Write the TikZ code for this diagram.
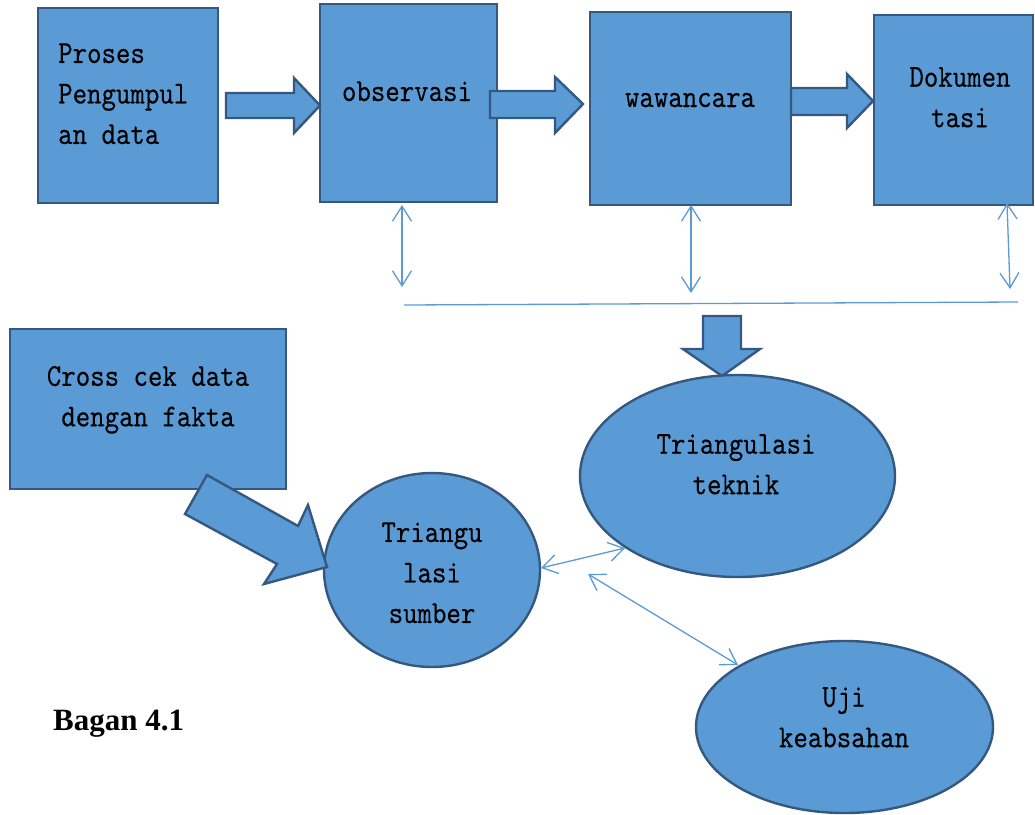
\documentclass[tikz,border=0pt]{standalone}
\usepackage{fontspec}
\newfontfamily\bagfont{Liberation Serif}
\newfontfamily\lblfont[FakeStretch=0.86,FakeBold=0.2]{lmmono10-regular.otf}
\usetikzlibrary{arrows.meta,shapes.geometric}
\definecolor{fillblue}{HTML}{5B9BD5}
\definecolor{edgeblue}{HTML}{34587F}
\definecolor{lineblue}{HTML}{5B9BD5}
\begin{document}
\begin{tikzpicture}[x=1pt,y=-1pt,
  shapebox/.style={draw=edgeblue, fill=fillblue, line width=2.4pt, rectangle, inner sep=0pt},
  shapeell/.style={draw=edgeblue, fill=fillblue, line width=2.4pt, ellipse, inner sep=0pt},
  blockarrow/.style={draw=edgeblue, fill=fillblue, line width=2.4pt, line join=miter},
  lbl/.style={font=\lblfont\fontsize{32}{40.5}\selectfont, inner sep=0pt, text=black},
  dblarrow/.style={draw=lineblue, line width=1.3pt, {Straight Barb[length=15pt,width=19pt]}-{Straight Barb[length=15pt,width=19pt]}},
  plainline/.style={draw=lineblue, line width=1.3pt}
]
\useasboundingbox (0,0) rectangle (1035,814);

% boxes
\node[shapebox, minimum width=180pt, minimum height=195pt] (proses) at (128,105.5) {};
\node[shapebox, minimum width=177pt, minimum height=198pt] (obs) at (408.5,103) {};
\node[shapebox, minimum width=201pt, minimum height=193pt] (waw) at (690.5,108.5) {};
\node[shapebox, minimum width=159pt, minimum height=190pt] (dok) at (953.5,110) {};
\node[shapebox, minimum width=276pt, minimum height=160pt] (cross) at (148,409) {};

% top block arrows
\path[blockarrow] (226,93) -- (294,93) -- (294,78) -- (320,105.5) -- (294,133) -- (294,118) -- (226,118) -- cycle;
\path[blockarrow] (490,91) -- (555,91) -- (555,77) -- (583,104) -- (555,133) -- (555,118) -- (490,118) -- cycle;
\path[blockarrow] (791,88) -- (847,88) -- (847,74) -- (873,101) -- (847,128) -- (847,115) -- (791,115) -- cycle;

% down block arrow
\path[blockarrow] (703,316) -- (741,316) -- (741,349) -- (760,349) -- (722,376) -- (683,349) -- (703,349) -- cycle;

% ellipses
\node[shapeell, minimum width=315pt, minimum height=202pt] (teknik) at (737.5,476) {};
\node[shapeell, minimum width=216pt, minimum height=194pt] (sumber) at (432,570) {};
\node[shapeell, minimum width=297pt, minimum height=172pt] (uji) at (844.5,727) {};

% diagonal block arrow
\path[blockarrow] (207,475) -- (298,526) -- (308,505) -- (327,567) -- (264,584) -- (277,564) -- (185,514) -- cycle;

% labels
\node[lbl, align=left, anchor=west] (tproses) at (58,93.8) {Proses\\Pengumpul\\an data};
\node[lbl, anchor=base] (tobs) at (407,101) {observasi};
\node[lbl, anchor=base] (twaw) at (690,107) {wawancara};
\node[lbl, align=center] (tdok) at (960,97.3) {Dokumen\\tasi};
\node[lbl, align=center] (tcross) at (148,399.8) {Cross cek data\\dengan fakta};
\node[lbl, align=center] (tsumber) at (432,572.8) {Triangu\\lasi\\sumber};
\node[lbl, align=center] (tteknik) at (736,464.3) {Triangulasi\\teknik};
\node[lbl, align=center] (tuji) at (844,717.3) {Uji\\keabsahan};
\node[font=\bagfont\bfseries\fontsize{31}{37}\selectfont, anchor=base west, inner sep=0pt] (bagan) at (53,730) {Bagan 4.1};

% thin connectors
\coordinate (v1a) at (402,205);
\coordinate (v1b) at (402,287);
\coordinate (v2a) at (691,205);
\coordinate (v2b) at (691,293);
\coordinate (v3a) at (1007,203);
\coordinate (v3b) at (1010,289);
\coordinate (hl) at (404,305);
\coordinate (hr) at (1018,302);
\coordinate (d1a) at (541,568);
\coordinate (d1b) at (625,548);
\coordinate (d2a) at (588,574);
\coordinate (d2b) at (738,665);
\draw[dblarrow] (v1a) -- (v1b);
\draw[dblarrow] (v2a) -- (v2b);
\draw[dblarrow] (v3a) -- (v3b);
\draw[plainline] (hl) -- (hr);
\draw[dblarrow] (d1a) -- (d1b);
\draw[dblarrow] (d2a) -- (d2b);
\end{tikzpicture}
\end{document}
